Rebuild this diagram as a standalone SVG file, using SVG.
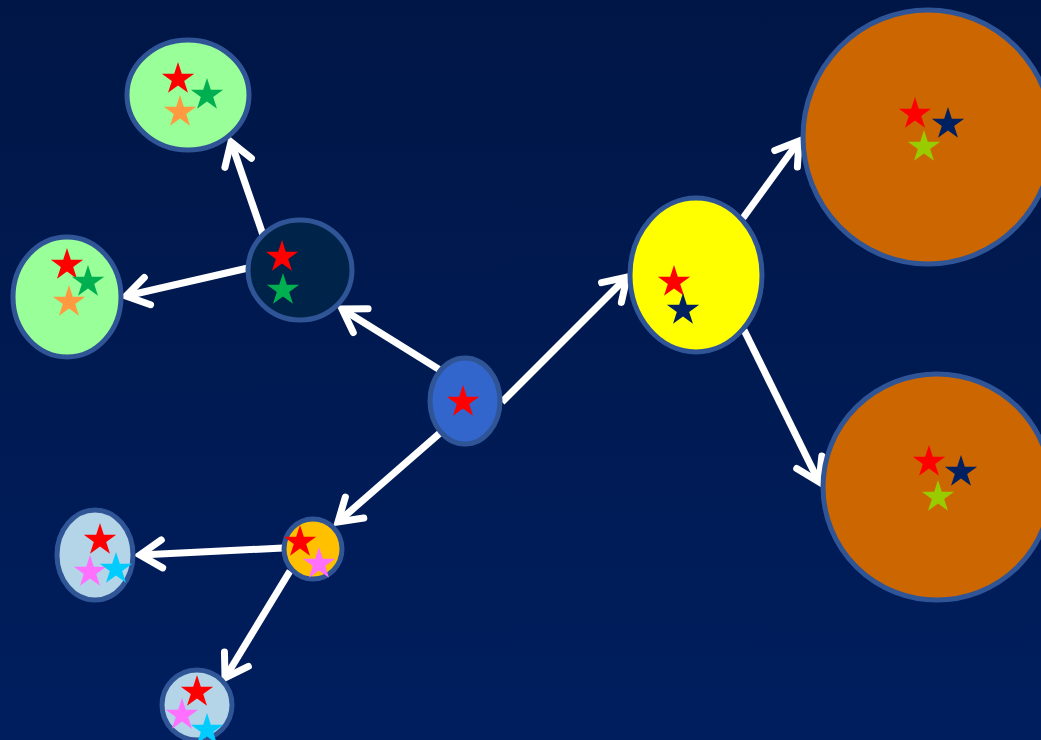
<svg xmlns="http://www.w3.org/2000/svg" xmlns:xlink="http://www.w3.org/1999/xlink" width="1041" height="740" viewBox="0 0 1041 740">
  <defs>
    <linearGradient id="bg" x1="0" y1="0" x2="0" y2="1">
      <stop offset="0" stop-color="#001646"/>
      <stop offset="1" stop-color="#001e5e"/>
    </linearGradient>
    <path id="star" d="M0,-17 L3.82,-5.26 L16.17,-5.25 L6.18,2.01 L9.99,13.75 L0,6.5 L-9.99,13.75 L-6.18,2.01 L-16.17,-5.25 L-3.82,-5.26 Z"/>
    <marker id="head" markerUnits="userSpaceOnUse" markerWidth="40" markerHeight="40" refX="0" refY="0" viewBox="-30 -20 40 40" orient="auto" overflow="visible">
      <path d="M-22,-14 L0,0 L-22,14" fill="none" stroke="#ffffff" stroke-width="7" stroke-linecap="round" stroke-linejoin="miter"/>
    </marker>
    <style>
      .node { stroke: #2f5597; stroke-width: 5; }
      .edge { stroke: #ffffff; stroke-width: 7; fill: none; marker-end: url(#head); }
      .red { fill: #ff0000; }
      .green { fill: #00b050; }
      .orange { fill: #ff9a40; }
      .navy { fill: #002060; }
      .lime { fill: #99cc00; }
      .pink { fill: #ff70ff; }
      .cyan { fill: #00ccff; }
    </style>
  </defs>

  <rect x="0" y="0" width="1041" height="740" fill="url(#bg)"/>

  <!-- connectors -->
  <g id="connectors">
    <line class="edge" x1="440" y1="370" x2="342" y2="309"/>
    <line class="edge" x1="502" y1="402" x2="627" y2="277"/>
    <line class="edge" x1="440" y1="433" x2="338" y2="522"/>
    <line class="edge" x1="263" y1="235" x2="231" y2="142"/>
    <line class="edge" x1="248" y1="268" x2="126" y2="296"/>
    <line class="edge" x1="743" y1="218" x2="799" y2="141"/>
    <line class="edge" x1="744" y1="330" x2="819" y2="482"/>
    <line class="edge" x1="283" y1="548" x2="140" y2="555"/>
    <line class="edge" x1="290" y1="571" x2="225" y2="678"/>
  </g>

  <!-- center node -->
  <g id="node-root">
    <ellipse class="node" cx="465" cy="401" rx="35" ry="43" fill="#3366cc"/>
    <use xlink:href="#star" x="463" y="402" class="red"/>
  </g>

  <!-- dark node, upper left -->
  <g id="node-dark">
    <ellipse class="node" cx="300" cy="270" rx="52" ry="50" fill="#00234a"/>
    <use xlink:href="#star" x="282" y="257" class="red"/>
    <use xlink:href="#star" x="283" y="290" class="green"/>
  </g>

  <!-- green node, top -->
  <g id="node-green-top">
    <ellipse class="node" cx="188" cy="95" rx="61" ry="55" fill="#99ff99"/>
    <use xlink:href="#star" x="178" y="79" class="red"/>
    <use xlink:href="#star" x="180" y="112" class="orange"/>
    <use xlink:href="#star" x="207" y="95" class="green"/>
  </g>

  <!-- green node, left -->
  <g id="node-green-left">
    <ellipse class="node" cx="67" cy="297" rx="54" ry="60" fill="#99ff99"/>
    <use xlink:href="#star" x="67" y="265" class="red"/>
    <use xlink:href="#star" x="88" y="282" class="green"/>
    <use xlink:href="#star" x="69" y="302" class="orange"/>
  </g>

  <!-- yellow node -->
  <g id="node-yellow">
    <ellipse class="node" cx="696" cy="275" rx="66" ry="77" fill="#ffff00"/>
    <use xlink:href="#star" x="674" y="282" class="red"/>
    <use xlink:href="#star" x="683" y="310" class="navy"/>
  </g>

  <!-- orange node, top right -->
  <g id="node-orange-top">
    <ellipse class="node" cx="928" cy="137" rx="125" ry="127" fill="#cc6600"/>
    <use xlink:href="#star" x="915" y="114" class="red"/>
    <use xlink:href="#star" x="948" y="124" class="navy"/>
    <use xlink:href="#star" x="924" y="147" class="lime"/>
  </g>

  <!-- orange node, bottom right -->
  <g id="node-orange-bottom">
    <ellipse class="node" cx="937" cy="487" rx="114" ry="113" fill="#cc6600"/>
    <use xlink:href="#star" x="929" y="462" class="red"/>
    <use xlink:href="#star" x="961" y="472" class="navy"/>
    <use xlink:href="#star" x="938" y="497" class="lime"/>
  </g>

  <!-- amber node -->
  <g id="node-amber">
    <ellipse class="node" cx="313" cy="549" rx="29" ry="30" fill="#ffc000"/>
    <use xlink:href="#star" x="300" y="542" class="red"/>
    <use xlink:href="#star" x="319" y="564" class="pink"/>
  </g>

  <!-- light blue node, left -->
  <g id="node-blue-left">
    <ellipse class="node" cx="95" cy="555" rx="38" ry="45" fill="#b4d4e8"/>
    <use xlink:href="#star" x="100" y="540" class="red"/>
    <use xlink:href="#star" x="90" y="572" class="pink"/>
    <use xlink:href="#star" x="116" y="569" class="cyan"/>
  </g>

  <!-- light blue node, bottom -->
  <g id="node-blue-bottom">
    <ellipse class="node" cx="197" cy="705" rx="35" ry="35" fill="#b4d4e8"/>
    <use xlink:href="#star" x="197" y="692" class="red"/>
    <use xlink:href="#star" x="182" y="715" class="pink"/>
    <use xlink:href="#star" x="207" y="730" class="cyan"/>
  </g>
</svg>
